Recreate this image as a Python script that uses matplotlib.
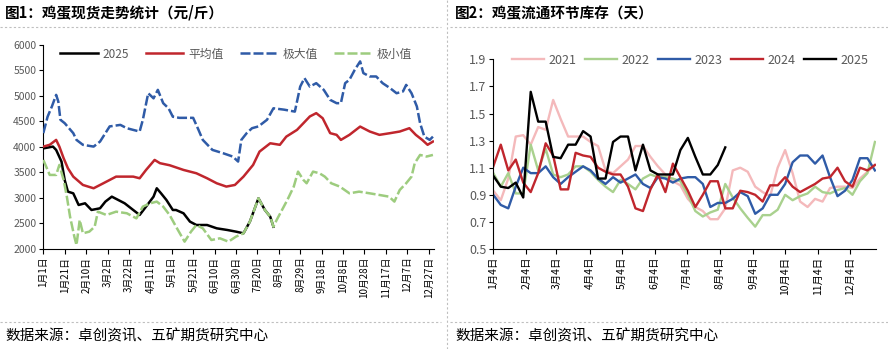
import numpy as np
import matplotlib
matplotlib.use("Agg")
import matplotlib.pyplot as plt
from matplotlib.lines import Line2D

plt.rcParams['font.family'] = ['Noto Sans CJK SC', 'DejaVu Sans']

# ---------------- 图1 data (day index from 1月1日) ----------------
days_2025 = [0, 9, 12, 17, 20, 23, 28, 33, 39, 45, 53, 58, 64, 70, 76, 84, 90, 96, 103, 106,
             110, 115, 121, 124, 131, 137, 143, 153, 162, 172, 180, 187, 193, 201, 207, 212, 215]
price_2025 = [3970, 4005, 3940, 3712, 3350, 3123, 3090, 2862, 2895, 2764, 2797, 2928, 3025, 2960, 2895,
              2764, 2666, 2830, 3025, 3189, 3090, 2960, 2764, 2764, 2699, 2536, 2470, 2470, 2405, 2372,
              2340, 2307, 2536, 2993, 2764, 2633, 2437]

days_avg = [0, 6, 12, 15, 19, 23, 28, 37, 47, 56, 68, 84, 90, 96, 104, 109, 118, 131, 143, 153,
            162, 171, 179, 187, 196, 202, 212, 221, 227, 237, 243, 249, 255, 261, 268, 274, 278, 286,
            296, 305, 314, 324, 333, 342, 348, 354, 359, 364]
price_avg = [4005, 4040, 4136, 4005, 3777, 3580, 3417, 3254, 3189, 3286, 3417, 3417, 3385, 3548, 3744,
             3680, 3640, 3548, 3483, 3385, 3287, 3222, 3254, 3417, 3646, 3907, 4070, 4040, 4200, 4332,
             4463, 4595, 4660, 4560, 4268, 4235, 4136, 4235, 4397, 4300, 4235, 4268, 4300, 4365, 4235,
             4136, 4040, 4103]

days_max = [0, 4, 8, 12, 14, 16, 20, 28, 31, 37, 47, 53, 62, 72, 78, 84, 90, 93, 98, 103,
            107, 112, 117, 121, 127, 134, 140, 145, 149, 158, 168, 177, 182, 185, 190, 195, 201, 209,
            215, 225, 235, 240, 244, 249, 255, 262, 268, 274, 278, 282, 286, 291, 296, 299, 305, 311,
            317, 324, 330, 336, 339, 344, 349, 352, 356, 361, 364]
price_max = [4268, 4590, 4789, 5018, 4888, 4530, 4463, 4268, 4136, 4040, 4005, 4103, 4400, 4430, 4365,
             4332, 4300, 4530, 5050, 4950, 5116, 4855, 4755, 4590, 4568, 4568, 4568, 4332, 4136, 3940,
             3875, 3810, 3712, 4136, 4268, 4365, 4400, 4530, 4755, 4728, 4690, 5180, 5345, 5180, 5247,
             5116, 4920, 4855, 4855, 5247, 5313, 5509, 5673, 5444, 5378, 5378, 5247, 5149, 5050, 5084,
             5213, 5050, 4790, 4463, 4200, 4136, 4200]

days_min = [0, 6, 12, 15, 19, 22, 25, 29, 31, 34, 37, 43, 48, 51, 59, 68, 78, 87, 93, 100,
            106, 112, 118, 124, 132, 138, 143, 149, 157, 165, 173, 180, 187, 193, 201, 207, 212, 215,
            218, 223, 228, 234, 238, 243, 246, 252, 258, 263, 269, 277, 286, 295, 305, 314, 323, 328,
            333, 339, 344, 347, 352, 358, 364]
price_min = [3744, 3450, 3450, 3646, 3352, 3025, 2633, 2241, 2077, 2568, 2307, 2340, 2437, 2731, 2666,
             2731, 2700, 2600, 2830, 2895, 2928, 2830, 2666, 2437, 2144, 2340, 2470, 2405, 2176, 2209,
             2144, 2242, 2307, 2536, 2993, 2764, 2633, 2437, 2568, 2764, 2960, 3222, 3515, 3352, 3287,
             3515, 3483, 3417, 3287, 3222, 3090, 3123, 3090, 3058, 3025, 2928, 3156, 3287, 3417, 3680,
             3842, 3810, 3842]

left_tick_days = [0, 20, 40, 60, 80, 100, 120, 140, 160, 180, 200, 220, 240, 260, 280, 300, 320, 340, 360]
left_tick_labels = ["1月1日", "1月21日", "2月10日", "3月2日", "3月22日", "4月11日", "5月1日", "5月21日",
                    "6月10日", "6月30日", "7月20日", "8月9日", "8月29日", "9月18日", "10月8日", "10月28日",
                    "11月17日", "12月7日", "12月27日"]

# ---------------- 图2 data (weekly, from 1月4日) ----------------
stock_2021 = [0.93, 0.86, 1.02, 1.33, 1.34, 1.27, 1.40, 1.38, 1.60, 1.46, 1.33, 1.33, 1.33, 1.29, 1.26,
              1.08, 1.06, 1.11, 1.16, 1.26, 1.26, 1.18, 1.11, 1.05, 1.00, 0.97, 0.87, 0.81, 0.78, 0.72,
              0.72, 0.80, 1.08, 1.10, 1.07, 0.96, 0.92, 0.89, 1.10, 1.23, 1.06, 0.85, 0.81, 0.87, 0.85,
              0.95, 0.96, 0.96, 0.95, 1.02, 1.07, 1.12]
stock_2022 = [1.06, 0.96, 1.06, 0.91, 0.91, 1.27, 1.08, 1.24, 1.05, 1.03, 1.05, 1.11, 1.11, 1.07, 1.01,
              0.96, 0.92, 1.01, 0.98, 0.94, 1.02, 1.05, 1.03, 1.03, 1.02, 1.00, 0.90, 0.78, 0.74, 0.77,
              0.79, 0.98, 0.88, 0.80, 0.73, 0.665, 0.75, 0.75, 0.79, 0.90, 0.86, 0.89, 0.91, 0.96, 0.92,
              0.91, 0.935, 0.95, 0.90, 1.00, 1.06, 1.29]
stock_2023 = [0.90, 0.825, 0.80, 0.96, 1.10, 1.06, 1.06, 1.11, 1.03, 0.98, 1.03, 1.07, 1.11, 1.08, 1.02,
              0.98, 1.03, 0.99, 1.02, 1.05, 0.98, 0.95, 1.03, 1.02, 0.99, 1.02, 1.03, 1.03, 0.98, 0.81,
              0.84, 0.84, 0.87, 0.92, 0.89, 0.76, 0.80, 0.90, 0.90, 0.98, 1.14, 1.19, 1.19, 1.13, 1.19,
              1.03, 0.89, 0.93, 1.01, 1.17, 1.17, 1.08]
stock_2024 = [1.11, 1.27, 1.08, 1.16, 0.99, 0.92, 1.06, 1.28, 1.19, 0.94, 0.94, 1.21, 1.19, 1.18, 1.10,
              1.07, 1.05, 1.05, 0.96, 0.80, 0.78, 0.94, 1.05, 0.92, 1.13, 1.03, 0.93, 0.81, 0.90, 1.00,
              1.00, 0.80, 0.80, 0.93, 0.92, 0.90, 0.85, 0.97, 0.97, 1.03, 0.96, 0.92, 0.95, 0.98, 1.02,
              1.03, 1.10, 1.00, 0.96, 1.10, 1.08, 1.12]
stock_2025 = [1.04, 0.96, 0.95, 0.99, 0.88, 1.66, 1.44, 1.44, 1.18, 1.17, 1.27, 1.27, 1.37, 1.33, 1.02,
              1.02, 1.29, 1.33, 1.33, 1.08, 1.27, 1.08, 1.05, 1.05, 1.05, 1.23, 1.32, 1.18, 1.05, 1.05,
              1.12, 1.25]

right_tick_days = [0, 31, 59, 90, 120, 151, 181, 212, 243, 273, 304, 334]
right_tick_labels = ["1月4日", "2月4日", "3月4日", "4月4日", "5月4日", "6月4日", "7月4日", "8月4日",
                     "9月4日", "10月4日", "11月4日", "12月4日"]

W, H = 888, 349
fig = plt.figure(figsize=(W / 100, H / 100), dpi=100)

gray = "#595959"


def fx(px):
    return px / W


def fy(py):
    return 1 - py / H


# frame texts and dashed separators
fig.text(fx(5), fy(13), "图1：鸡蛋现货走势统计（元/斤）", fontsize=10.5, fontweight="bold",
         va="center", ha="left")
fig.text(fx(455), fy(13), "图2：鸡蛋流通环节库存（天）", fontsize=10.5, fontweight="bold",
         va="center", ha="left")
fig.text(fx(5), fy(336), "数据来源：卓创资讯、五矿期货研究中心", fontsize=10.5, va="center", ha="left")
fig.text(fx(455), fy(336), "数据来源：卓创资讯、五矿期货研究中心", fontsize=10.5, va="center", ha="left")

sep = dict(color="#BFBFBF", lw=0.8, ls=(0, (2, 2)), transform=fig.transFigure)
fig.add_artist(Line2D([0, fx(441)], [fy(26.5)] * 2, **sep))
fig.add_artist(Line2D([fx(450), 1], [fy(26.5)] * 2, **sep))
fig.add_artist(Line2D([0, fx(441)], [fy(322)] * 2, **sep))
fig.add_artist(Line2D([fx(450), 1], [fy(322)] * 2, **sep))
fig.add_artist(Line2D([fx(446.5)] * 2, [0, 1], **sep))

# ---------------- left chart ----------------
ax1 = fig.add_axes([fx(43.3), fy(249), fx(434 - 43.3), (249 - 44.7) / H])
ax1.plot(days_2025, price_2025, color="black", lw=1.8, label="2025", zorder=3)
ax1.plot(days_avg, price_avg, color="#C0262D", lw=1.8, label="平均值", zorder=3)
ax1.plot(days_max, price_max, color="#2F5BA7", lw=1.8, ls=(0, (4, 1.2)), label="极大值", zorder=4)
ax1.plot(days_min, price_min, color="#9DCC7E", lw=1.8, ls=(0, (4, 1.2)), label="极小值", zorder=4)
ax1.set_xlim(0, 365)
ax1.set_ylim(2000, 6000)
ax1.set_yticks(np.arange(2000, 6001, 500))
ax1.set_xticks(left_tick_days)
ax1.set_xticklabels(left_tick_labels, rotation=90, fontsize=7)
ax1.tick_params(axis="y", labelsize=7.5, labelcolor=gray, length=3, width=0.8, pad=2)
ax1.tick_params(axis="x", length=3.5, width=0.8, pad=2)
for s in ["top", "right"]:
    ax1.spines[s].set_visible(False)
ax1.legend(loc="center", bbox_to_anchor=(fx(236), fy(54)), bbox_transform=fig.transFigure,
           ncol=4, frameon=False, fontsize=8.5, handlelength=3.2, columnspacing=1.4,
           handletextpad=0.4, labelcolor=gray)

# ---------------- right chart ----------------
ax2 = fig.add_axes([fx(493.3), fy(249), fx(876 - 493.3), (249 - 59.3) / H])
week_days = [7 * i for i in range(len(stock_2021))]
ax2.plot(week_days, stock_2021, color="#F4B9BB", lw=1.7, label="2021")
ax2.plot(week_days, stock_2022, color="#A9D18E", lw=1.7, label="2022")
ax2.plot(week_days, stock_2023, color="#2F5BA7", lw=1.7, label="2023")
ax2.plot(week_days, stock_2024, color="#C0262D", lw=1.7, label="2024")
ax2.plot(week_days[:len(stock_2025)], stock_2025, color="black", lw=1.7, label="2025")
ax2.set_xlim(0, 358)
ax2.set_ylim(0.5, 1.9)
ax2.set_yticks(np.arange(0.5, 1.91, 0.2))
ax2.set_yticklabels([f"{v:.1f}" for v in np.arange(0.5, 1.91, 0.2)])
ax2.set_xticks(right_tick_days)
ax2.set_xticklabels(right_tick_labels, rotation=90, fontsize=7.5)
ax2.tick_params(axis="y", labelsize=9, labelcolor=gray, length=3, width=0.8, pad=2)
ax2.tick_params(axis="x", length=3.5, width=0.8, pad=2)
for s in ["top", "right"]:
    ax2.spines[s].set_visible(False)
ax2.legend(loc="center", bbox_to_anchor=(fx(690), fy(60)), bbox_transform=fig.transFigure,
           ncol=5, frameon=False, fontsize=9, handlelength=2.6, columnspacing=0.7,
           handletextpad=0.3, labelcolor=gray)

fig.savefig("out.png", dpi=100)
